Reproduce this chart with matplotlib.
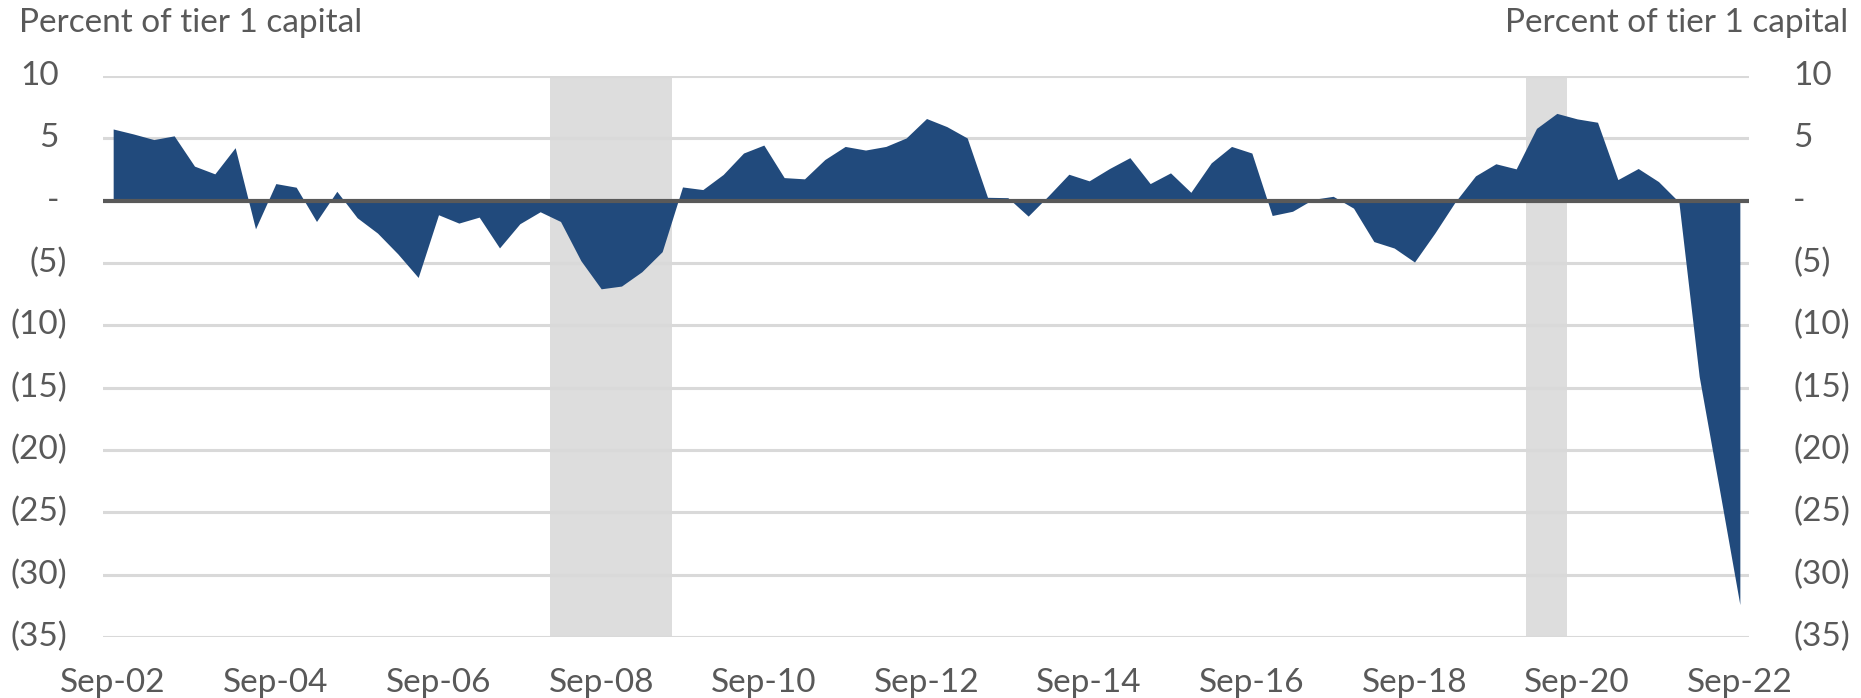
import matplotlib.pyplot as plt
import pandas as pd

# quarterly series, Sep-02 .. Sep-22
quarters = pd.date_range('2002-09-30', periods=81, freq='QE')
labels = [d.strftime('%b-%y') for d in quarters]

values = [
    5.75, 5.35, 4.9, 5.2, 2.77, 2.15, 4.25, -2.26, 1.37, 1.08,
    -1.67, 0.75, -1.37, -2.6, -4.27, -6.16, -1.13, -1.8, -1.32, -3.79,
    -1.85, -0.89, -1.67, -4.81, -7.07, -6.85, -5.7, -4.09, 1.1, 0.89,
    2.1, 3.82, 4.46, 1.85, 1.75, 3.3, 4.35, 4.06, 4.35, 5.03,
    6.59, 5.94, 5.03, 0.27, 0.24, -1.24, 0.4, 2.12, 1.59, 2.58,
    3.45, 1.37, 2.23, 0.67, 3.03, 4.35, 3.82, -1.19, -0.85, 0.1,
    0.35, -0.6, -3.28, -3.8, -4.92, -2.6, -0.1, 1.99, 2.96, 2.55,
    5.8, 7.0, 6.56, 6.29, 1.69, 2.58, 1.53, -0.1, -14.1, -23.2,
    -32.4,
]

recession = ['Mar-08', 'Jun-08', 'Sep-08', 'Dec-08', 'Mar-09', 'Jun-09',
             'Mar-20', 'Jun-20']

yticks = [10, 5, 0, -5, -10, -15, -20, -25, -30, -35]
xtick_labels = ['Sep-02', 'Sep-04', 'Sep-06', 'Sep-08', 'Sep-10', 'Sep-12',
                'Sep-14', 'Sep-16', 'Sep-18', 'Sep-20', 'Sep-22']

plt.rcParams['font.family'] = ['Lato', 'DejaVu Sans']
txt = '#595959'
fs = 24

fig = plt.figure(figsize=(18.61, 6.98), dpi=100)
ax = fig.add_axes([103 / 1861, 1 - 637 / 698, (1749 - 103) / 1861, (637 - 76) / 698])

x = list(range(len(values)))

# recession shading
rec_x = [labels.index(q) for q in recession]
ax.bar(rec_x, [45] * len(rec_x), bottom=-35, width=1.0, color='#DDDDDD', lw=0, zorder=0)

for t in yticks:
    if t != 0:
        ax.axhline(t, color='#D9D9D9', lw=2.2, zorder=1)

ax.fill_between(x, values, 0, color='#214A7C', lw=0, zorder=2)
ax.axhline(0, color='#595959', lw=3, zorder=3)

ax.set_xlim(-0.5, 80.45)
ax.set_ylim(-35, 10)
for s in ax.spines.values():
    s.set_visible(False)
ax.set_yticks([])
ax.set_xticks([labels.index(l) for l in xtick_labels])
ax.set_xticklabels(xtick_labels, fontsize=fs, color=txt)
ax.tick_params(axis='x', length=0, pad=22)

# accounting-style y labels on both sides
def fmt(v):
    if v == 0:
        return '-'
    if v < 0:
        return '(%d)' % -v
    return '%d' % v

for v in yticks:
    s = fmt(v)
    lo = 36 if v < 0 else 44
    ax.annotate(s, xy=(0, v), xycoords=ax.get_yaxis_transform(), xytext=(-lo, 0),
                textcoords='offset pixels', ha='right', va='center', fontsize=fs, color=txt)
    ax.annotate(s, xy=(1, v), xycoords=ax.get_yaxis_transform(), xytext=(44, 0),
                textcoords='offset pixels', ha='left', va='center', fontsize=fs, color=txt)

fig.text(19 / 1861, 1 - 23 / 698, 'Percent of tier 1 capital', ha='left', va='center',
         fontsize=fs, color=txt)
fig.text(1848 / 1861, 1 - 23 / 698, 'Percent of tier 1 capital', ha='right', va='center',
         fontsize=fs, color=txt)

fig.savefig('out.png', dpi=100)
